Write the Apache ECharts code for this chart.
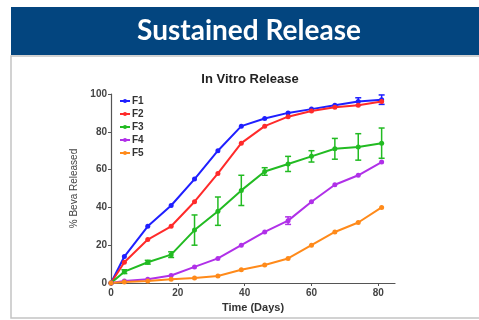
<!DOCTYPE html>
<html>
<head>
<meta charset="utf-8">
<script src="https://cdn.jsdelivr.net/npm/echarts@6/dist/echarts.min.js"></script>
<style>
  html, body { margin: 0; padding: 0; background: #fff; }
  #chart { width: 479px; height: 320px; }
</style>
</head>
<body>
<div id="chart"></div>
<script>
// time points (days) and % released for each formulation
const days = [0, 4, 11, 18, 25, 32, 39, 46, 53, 60, 67, 74, 81];
const f1 = [0, 14, 30, 41, 55, 70, 83, 87, 90, 92, 94, 96, 97];
const f2 = [0, 11, 23, 30, 43, 58, 74, 83, 88, 91, 93, 94, 96];
const f3 = [0, 6, 11, 15, 28, 38, 49, 59, 63, 67, 71, 72, 74];
const f4 = [0, 1, 2, 4, 8.5, 13, 20, 27, 33, 43, 52, 57, 64];
const f5 = [0, 0.5, 1, 2, 2.6, 3.7, 7, 9.5, 13, 20, 27, 32, 40];
// error bars (+/-)
const f1Err = [0, 0, 0, 0, 0, 0, 0, 0, 0, 0, 0, 2, 2.5];
const f3Err = [0, 1, 1, 1.5, 8, 7.5, 8, 2, 4, 3, 5.5, 7, 8];
const f4Err = [0, 0, 0, 0, 0, 0, 0, 0, 2, 0, 0, 0, 0];

const names = ['F1', 'F2', 'F3', 'F4', 'F5'];
const colors = ['#1f1fff', '#ff2a2a', '#22bb22', '#b030e8', '#ff8a1a'];
const values = [f1, f2, f3, f4, f5];

const chart = echarts.init(document.getElementById('chart'));

function errSeries(vals, err, color) {
    return {
        type: 'custom',
        data: days.map((d, i) => [d, vals[i] - err[i], vals[i] + err[i]]).filter((p, i) => err[i] > 0),
        z: 3,
        silent: true,
        renderItem: function (params, api) {
            const lo = api.coord([api.value(0), api.value(1)]);
            const hi = api.coord([api.value(0), api.value(2)]);
            const w = 3;
            const st = { stroke: color, lineWidth: 1.5 };
            return {
                type: 'group',
                children: [
                    { type: 'line', shape: { x1: lo[0], y1: lo[1], x2: hi[0], y2: hi[1] }, style: st },
                    { type: 'line', shape: { x1: lo[0] - w, y1: lo[1], x2: lo[0] + w, y2: lo[1] }, style: st },
                    { type: 'line', shape: { x1: hi[0] - w, y1: hi[1], x2: hi[0] + w, y2: hi[1] }, style: st }
                ]
            };
        }
    };
}

const lineSeries = names.map((n, k) => ({
    name: n,
    type: 'line',
    data: days.map((d, i) => [d, values[k][i]]),
    symbol: 'circle',
    symbolSize: 5,
    color: colors[k],
    lineStyle: { width: 2 },
    z: 4
}));

const option = {
    animation: false,
    graphic: [
        { type: 'rect', shape: { x: 11, y: 56, width: 480, height: 262 }, style: { fill: '#fff', stroke: '#c4c4c4', lineWidth: 1.5 }, z: -10 },
        { type: 'rect', shape: { x: 11, y: 7, width: 470, height: 48 }, style: { fill: '#03457f' }, z: -10 },
        { type: 'text', x: 249, y: 31, style: { text: 'Sustained Release', fill: '#fff', font: 'bold 28px Lato', align: 'center', verticalAlign: 'middle' } }
    ],
    title: {
        text: 'In Vitro Release',
        left: 245,
        top: 68,
        textAlign: 'center',
        textStyle: { fontFamily: 'Liberation Sans', fontSize: 13, fontWeight: 'bold', color: '#222' }
    },
    legend: {
        orient: 'vertical',
        left: 114,
        top: 91,
        itemWidth: 10,
        itemHeight: 5,
        itemGap: 3,
        data: names,
        textStyle: { fontFamily: 'Liberation Sans', fontSize: 10, fontWeight: 'bold', color: '#333', padding: [0, 0, 0, -3] }
    },
    grid: { left: 111, top: 94, width: 284, height: 189 },
    xAxis: {
        type: 'value',
        min: 0,
        max: 85,
        interval: 20,
        name: 'Time (Days)',
        nameLocation: 'middle',
        nameGap: 17,
        nameTextStyle: { fontFamily: 'Liberation Sans', fontSize: 11, fontWeight: 'bold', color: '#333' },
        axisLine: { lineStyle: { color: '#555', width: 1.2 } },
        axisTick: { show: true, length: 3, lineStyle: { color: '#555' } },
        axisLabel: { fontFamily: 'Liberation Sans', fontSize: 10, fontWeight: 'bold', color: '#444', margin: 5, showMaxLabel: false },
        splitLine: { show: false }
    },
    yAxis: {
        type: 'value',
        min: 0,
        max: 100,
        interval: 20,
        name: '% Beva Released',
        nameLocation: 'middle',
        nameGap: 24,
        nameRotate: 90,
        nameTextStyle: { fontFamily: 'Liberation Sans', fontSize: 10, color: '#444' },
        axisLine: { show: true, lineStyle: { color: '#555', width: 1.2 } },
        axisTick: { show: true, length: 3, lineStyle: { color: '#555' } },
        axisLabel: { fontFamily: 'Liberation Sans', fontSize: 10, fontWeight: 'bold', color: '#444', margin: 4 },
        splitLine: { show: false }
    },
    series: lineSeries.concat([
        errSeries(f1, f1Err, colors[0]),
        errSeries(f3, f3Err, colors[2]),
        errSeries(f4, f4Err, colors[3])
    ])
};

chart.setOption(option);
</script>
</body>
</html>
